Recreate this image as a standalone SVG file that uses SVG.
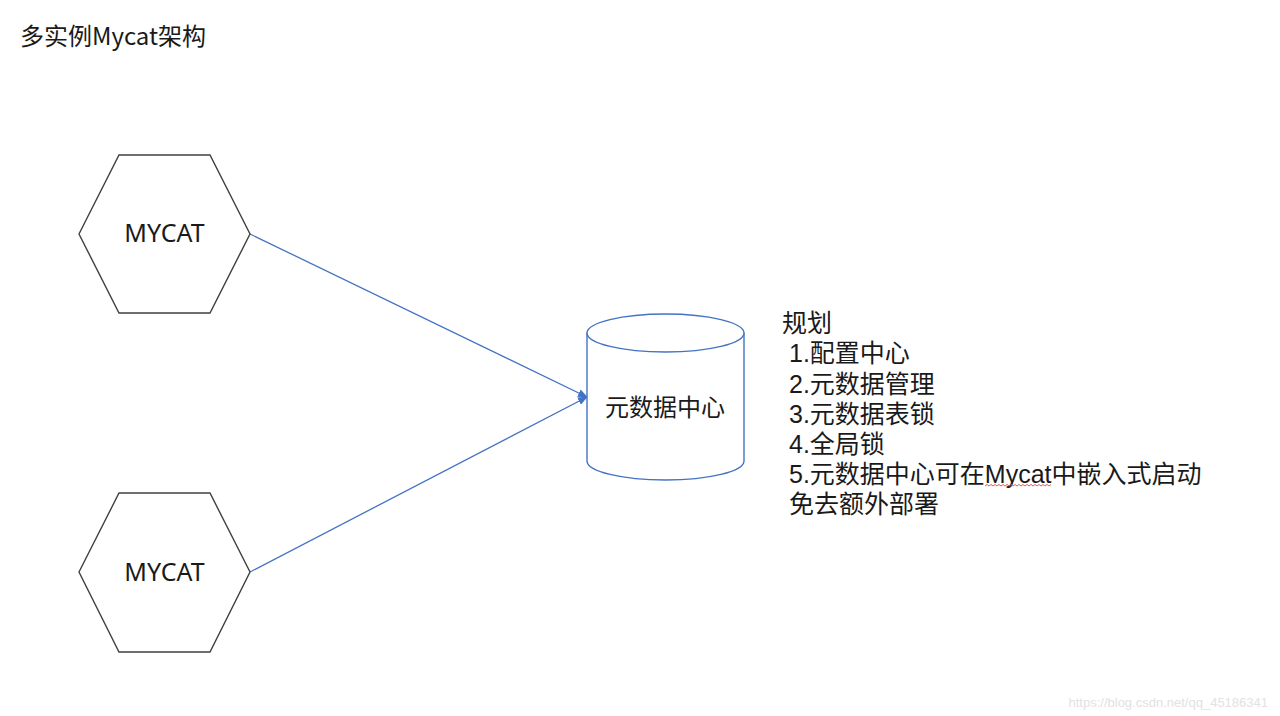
<svg xmlns="http://www.w3.org/2000/svg" width="1280" height="716" viewBox="0 0 1280 716">
<defs>
<style>
.t{font-family:"Noto Sans CJK SC","Noto Sans",sans-serif;fill:#1a1a1a;font-size:24px}
.n{font-family:"Liberation Sans","Noto Sans CJK SC",sans-serif;fill:#1a1a1a;font-size:25px}
.m{font-family:"Noto Sans","Noto Sans CJK SC",sans-serif;fill:#1a1a1a;font-size:25px}
.hex{fill:#ffffff;stroke:#404040;stroke-width:1.4}
.cyl{fill:#ffffff;stroke:#4472C4;stroke-width:1.4}
.con{fill:none;stroke:#4472C4;stroke-width:1.3}
.wm{font-family:"Liberation Sans",Arial,sans-serif;font-size:13px;fill:#e2e2e2}
</style>
<marker id="arr" markerWidth="10" markerHeight="8" refX="9" refY="4" orient="auto" markerUnits="userSpaceOnUse">
<path d="M0,0 L10,4 L0,8 Z" fill="#4472C4"/>
</marker>
</defs>
<rect width="1280" height="716" fill="#ffffff"/>
<text class="t" x="20" y="45">多实例Mycat架构</text>
<g id="connectors">
<line class="con" x1="250" y1="234" x2="587" y2="397" marker-end="url(#arr)"/>
<line class="con" x1="250" y1="572" x2="587" y2="397" marker-end="url(#arr)"/>
</g>
<g id="mycat1">
<polygon class="hex" points="79,234 119,155 210,155 250,234 210,313 119,313"/>
<text class="m" x="164.5" y="242" text-anchor="middle">MYCAT</text>
</g>
<g id="mycat2">
<polygon class="hex" points="79,572 119,493 210,493 250,572 210,652 119,652"/>
<text class="m" x="164.5" y="581" text-anchor="middle">MYCAT</text>
</g>
<g id="metadata">
<path class="cyl" d="M587,333 L587,461 A78.5,19 0 0 0 744,461 L744,333"/>
<ellipse class="cyl" cx="665.5" cy="333" rx="78.5" ry="19"/>
<text class="t" x="665" y="416" text-anchor="middle">元数据中心</text>
</g>
<g id="notes">
<text class="n" x="782" y="332">规划</text>
<text class="n" x="789" y="362">1.配置中心</text>
<text class="n" x="789" y="393">2.元数据管理</text>
<text class="n" x="789" y="423">3.元数据表锁</text>
<text class="n" x="789" y="453">4.全局锁</text>
<text class="n" x="789" y="483">5.元数据中心可在Mycat中嵌入式启动</text>
<text class="n" x="789" y="513">免去额外部署</text>
<path d="M985,486 l2,-1.5 l2,1.5 l2,-1.5 l2,1.5 l2,-1.5 l2,1.5 l2,-1.5 l2,1.5 l2,-1.5 l2,1.5 l2,-1.5 l2,1.5 l2,-1.5 l2,1.5 l2,-1.5 l2,1.5 l2,-1.5 l2,1.5 l2,-1.5 l2,1.5 l2,-1.5 l2,1.5 l2,-1.5 l2,1.5 l2,-1.5 l2,1.5 l2,-1.5 l2,1.5 l2,-1.5 l2,1.5 l2,-1.5 l2,1.5 l2,-1.5" fill="none" stroke="#e05a5a" stroke-width="1"/>
</g>
<text class="wm" x="1268" y="707" text-anchor="end">https://blog.csdn.net/qq_45186341</text>
</svg>
